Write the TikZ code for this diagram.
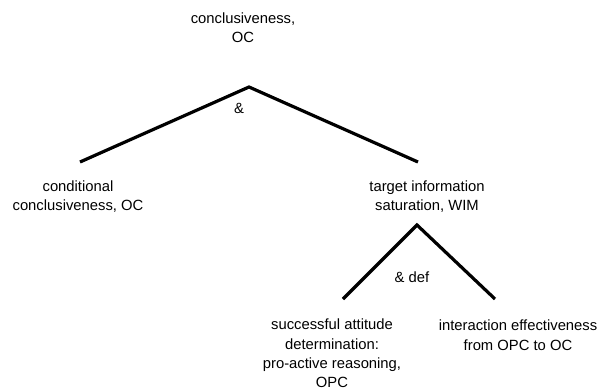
\documentclass[tikz,border=0pt]{standalone}
\usepackage{fontspec}
\setmainfont{Liberation Sans}
\begin{document}
\begin{tikzpicture}[x=1pt,y=-1pt,
  label/.style={inner sep=0pt,align=center,anchor=north,font=\fontsize{14.8}{19.3}\selectfont},
  oplabel/.style={inner sep=0pt,anchor=center,font=\fontsize{14.8}{19.3}\selectfont},
  branch/.style={line width=3.2pt,black}]
  \useasboundingbox (0,0) rectangle (603,391);

  % goal nodes
  \node[label] (root) at (243,12.5) {conclusiveness,\\OC};
  \node[label] (cond) at (78,180.5) {conditional\\conclusiveness, OC};
  \node[label] (sat)  at (427,180.5) {target information\\saturation, WIM};
  \node[label] (att)  at (332,319) {successful attitude\\determination:\\pro-active reasoning,\\OPC};
  \node[label] (eff)  at (518,320) {interaction effectiveness\\from OPC to OC};

  % branch points of the tree
  \coordinate (top)  at (249,87);
  \coordinate (topL) at (80,162);
  \coordinate (topR) at (418,162);
  \coordinate (mid)  at (417,225);
  \coordinate (midL) at (343,299);
  \coordinate (midR) at (495,299);

  \draw[branch] (topL) -- (top) -- (topR);
  \draw[branch] (midL) -- (mid) -- (midR);

  % decomposition operators
  \node[oplabel] (and)    at (239,108) {\&};
  \node[oplabel] (anddef) at (412,277) {\& def};
\end{tikzpicture}
\end{document}
